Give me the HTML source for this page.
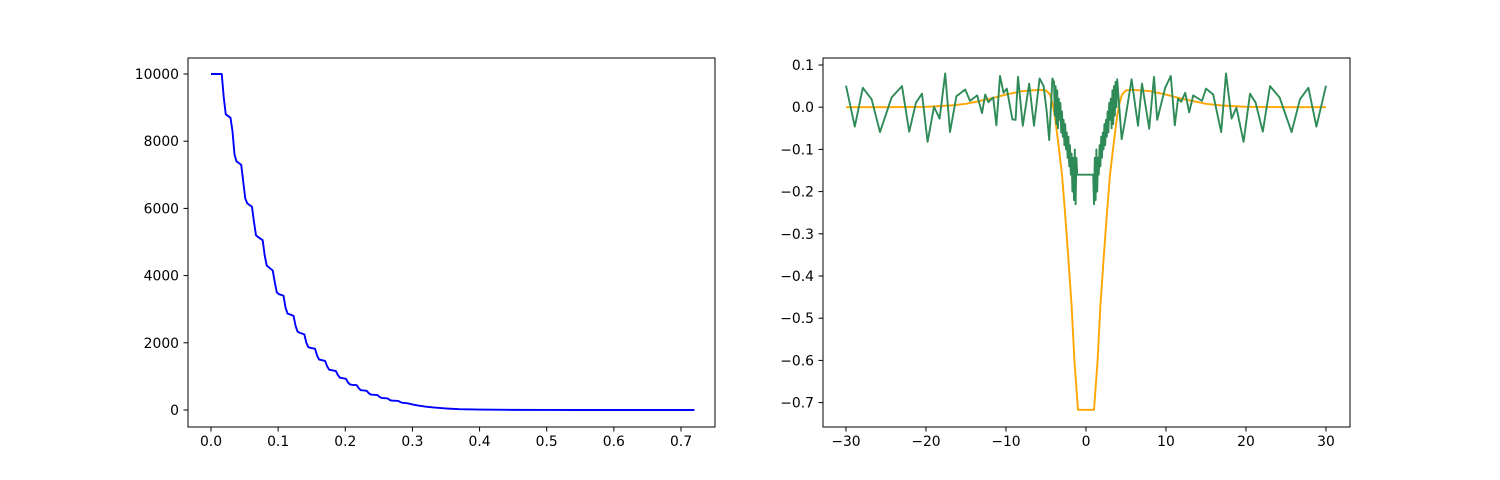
<!DOCTYPE html>
<html><head><meta charset="utf-8"><style>
body{margin:0;background:#fff}
svg{display:block;font-family:"DejaVu Sans","Liberation Sans",sans-serif;font-size:13.9px}
</style></head><body>
<svg id="fig" width="1500" height="480"></svg>
<script>
// Left chart data
const leftX=[0,0.016,0.019,0.022,0.029,0.032,0.035,0.038,0.045,0.048,0.051,0.054,0.061,0.064,0.067,0.070,0.077,0.080,0.083,0.086,0.092,0.095,0.098,0.101,0.108,0.111,0.114,0.117,0.123,0.126,0.129,0.132,0.139,0.142,0.145,0.148,0.155,0.158,0.161,0.164,0.170,0.173,0.176,0.179,0.186,0.189,0.192,0.195,0.201,0.204,0.207,0.210,0.217,0.220,0.223,0.226,0.232,0.235,0.238,0.241,0.248,0.251,0.254,0.257,0.263,0.266,0.269,0.272,0.279,0.282,0.285,0.288,0.295,0.30,0.31,0.32,0.335,0.35,0.37,0.40,0.45,0.50,0.55,0.72];
const leftY=[10000,10000,9300,8800,8700,8300,7600,7400,7300,6800,6300,6150,6050,5600,5200,5150,5050,4600,4300,4250,4150,3800,3500,3450,3400,3050,2870,2850,2800,2500,2330,2300,2250,2000,1870,1850,1820,1620,1500,1490,1460,1300,1200,1190,1160,1040,960,950,930,820,760,750,740,650,590,585,570,500,460,455,445,390,360,355,345,300,280,277,270,235,215,210,190,165,130,100,70,45,25,12,4,1,0,0];
const leftXTicks=[0,0.1,0.2,0.3,0.4,0.5,0.6,0.7];
const leftXLabels=["0.0","0.1","0.2","0.3","0.4","0.5","0.6","0.7"];
const leftYTicks=[0,2000,4000,6000,8000,10000];
// Right chart data
const orangeX=[-30,-25,-20,-17,-15,-12,-10,-8,-6,-5,-4.5,-4.2,-3.9,-3.5,-3.0,-2.6,-2.2,-1.8,-1.45,-1.0,1.0,1.45,1.8,2.2,2.6,3.0,3.5,3.9,4.2,4.5,5,6,8,10,12,15,17,20,25,30];
const orangeY=[0,0,0.001,0.004,0.008,0.02,0.03,0.038,0.041,0.04,0.03,0.01,-0.02,-0.08,-0.16,-0.255,-0.36,-0.47,-0.6,-0.717,-0.717,-0.6,-0.47,-0.36,-0.255,-0.16,-0.08,-0.02,0.01,0.03,0.04,0.041,0.038,0.03,0.02,0.008,0.004,0.001,0,0];
const greenX=[-30,-28.9,-27.9,-26.8,-25.75,-24.3,-23.0,-22.1,-21.25,-20.5,-19.8,-19.0,-18.3,-17.6,-17.0,-16.2,-15.1,-14.5,-13.6,-13.0,-12.6,-12.2,-11.6,-11.2,-10.75,-10.3,-9.9,-9.2,-8.8,-8.5,-7.9,-7.1,-6.5,-5.8,-5.3,-4.9,-4.6,-4.2,
-4.0,-3.9,-3.8,-3.7,-3.6,-3.5,-3.4,-3.3,-3.2,-3.1,-3.0,-2.9,-2.8,-2.7,-2.6,-2.5,-2.4,-2.3,-2.2,-2.1,-2.0,-1.9,-1.8,-1.7,-1.6,-1.5,-1.4,-1.3,-1.2,-1.1,
0.9,1.0,1.1,1.2,1.3,1.4,1.5,1.6,1.7,1.8,1.9,2.0,2.1,2.2,2.3,2.4,2.5,2.6,2.7,2.8,2.9,3.0,3.1,3.2,3.3,3.4,3.5,3.6,3.7,3.8,
3.9,4.46,4.9,5.7,6.5,7.0,7.9,8.5,8.9,9.9,10.6,11.1,11.5,11.9,12.4,12.9,13.4,14.5,15.0,15.9,16.9,17.5,18.2,18.8,19.7,20.5,21.2,22.1,23.0,24.2,25.7,26.75,27.8,28.8,30];
const greenY=[0.051,-0.046,0.046,0.019,-0.059,0.023,0.05,-0.058,0.011,0.032,-0.082,0.001,-0.027,0.08,-0.059,0.026,0.042,0.015,0.028,-0.014,0.03,0.012,0.023,-0.043,0.074,0.034,0.044,-0.029,-0.03,0.072,-0.044,0.056,-0.044,0.068,0.05,-0.012,-0.078,0.068,
0.06,-0.02,0.05,-0.04,0.04,-0.05,0.02,-0.03,0.01,-0.06,-0.01,-0.07,-0.03,-0.09,-0.04,-0.1,-0.06,-0.12,-0.07,-0.14,-0.09,-0.16,-0.11,-0.2,-0.12,-0.22,-0.1,-0.23,-0.12,-0.16,
-0.16,-0.23,-0.12,-0.22,-0.1,-0.2,-0.12,-0.16,-0.09,-0.14,-0.07,-0.12,-0.06,-0.1,-0.04,-0.09,-0.03,-0.07,-0.01,-0.06,0.01,-0.03,0.02,-0.05,0.04,-0.04,0.05,-0.02,0.06,0.0,
0.066,-0.076,-0.029,0.066,-0.044,0.056,-0.051,0.072,-0.03,0.046,0.074,-0.043,0.02,0.013,0.034,-0.012,0.028,0.015,0.044,0.03,-0.059,0.08,-0.027,-0.001,-0.082,0.032,0.011,-0.058,0.05,0.023,-0.059,0.019,0.046,-0.046,0.051];
const rightXTicks=[-30,-20,-10,0,10,20,30];
const rightYTicks=[0.1,0,-0.1,-0.2,-0.3,-0.4,-0.5,-0.6,-0.7];
const rightYLabels=["0.1","0.0","−0.1","−0.2","−0.3","−0.4","−0.5","−0.6","−0.7"];
const rightXLabels=["−30","−20","−10","0","10","20","30"];

const NS="http://www.w3.org/2000/svg";
const fig=document.getElementById('fig');
function mk(tag,attrs,parent){const e=document.createElementNS(NS,tag);for(const k in attrs)e.setAttribute(k,attrs[k]);(parent||fig).appendChild(e);return e;}

function axes(name,L,T,R,B,sx,sy,xt,xl,yt,yl,series){
  const g=mk('g',{});
  
  
  for(const s of series){
    const p=mk('polyline',{points:s.x.map((v,i)=>sx(v).toFixed(2)+','+sy(s.y[i]).toFixed(2)).join(' '),fill:'none',stroke:s.c,'stroke-width':1.9,'stroke-linejoin':'round'},g);
    
    
  }
  const fr=mk('rect',{x:L,y:T,width:R-L,height:B-T,fill:'none',stroke:'#000','stroke-width':1},g);
  
  
  xt.forEach((v,i)=>{const x=sx(v);mk('line',{x1:x,x2:x,y1:B,y2:B+4.5,stroke:'#000','stroke-width':1},g);
    const t=mk('text',{x:x,y:B+19,'text-anchor':'middle'},g);t.textContent=xl[i];
    
    });
  yt.forEach((v,i)=>{const y=sy(v);mk('line',{x1:L-4.5,x2:L,y1:y,y2:y,stroke:'#000','stroke-width':1},g);
    const t=mk('text',{x:L-9,y:y+5,'text-anchor':'end'},g);t.textContent=yl[i];
    
    });
}
// left
{const L=188,R=715,T=58,B=427;
 const sx=v=>211+v*(681-211)/0.7, sy=v=>410-v*(410-74)/10000;
 axes('left-chart',L,T,R,B,sx,sy,leftXTicks,leftXLabels,leftYTicks,leftYTicks.map(String),[{x:leftX,y:leftY,c:'#0000ff',n:'blue-decay-line'}]);}
// right
{const L=823,R=1350,T=58,B=427;
 const sx=v=>846+(v+30)*(1326-846)/60, sy=v=>65+(0.1-v)*422;
 axes('right-chart',L,T,R,B,sx,sy,rightXTicks,rightXLabels,rightYTicks,rightYLabels,[{x:orangeX,y:orangeY,c:'#ffa500',n:'orange-line'},{x:greenX,y:greenY,c:'#2e8b57',n:'green-noisy-line'}]);}
</script>
</body></html>
